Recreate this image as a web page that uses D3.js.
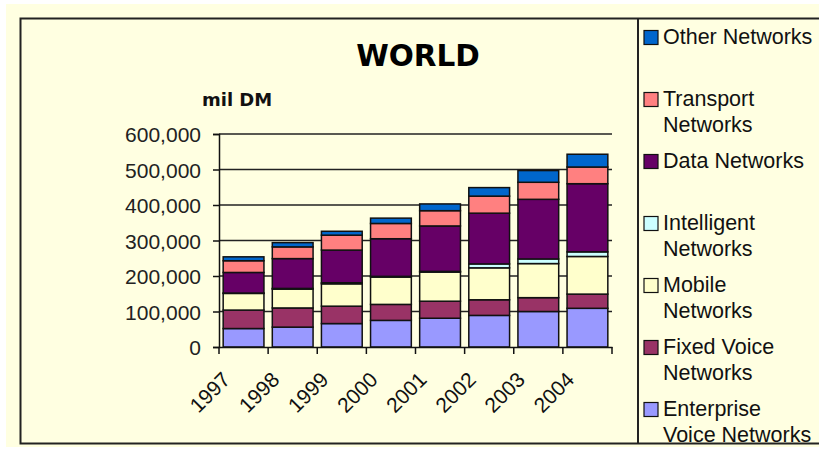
<!DOCTYPE html>
<html><head><meta charset="utf-8">
<script src="https://cdn.jsdelivr.net/npm/d3@7"></script>
<style>body{margin:0;background:#fff}svg{display:block}</style>
</head><body>
<svg id="c" width="819" height="449"></svg>
<script>
const years = ["1997","1998","1999","2000","2001","2002","2003","2004"];
const seriesNames = ["Enterprise Voice Networks","Fixed Voice Networks","Mobile Networks","Intelligent Networks","Data Networks","Transport Networks","Other Networks"];
const legendLines = [["Enterprise","Voice Networks"],["Fixed Voice","Networks"],["Mobile","Networks"],["Intelligent","Networks"],["Data Networks"],["Transport","Networks"],["Other Networks"]];
const colors = ["#9999FF","#993366","#FFFFCC","#CCFFFF","#660066","#FF8080","#0066CC"];
const enterprise = [52000,56000,66000,75000,81000,89000,100000,109000];
const fixedVoice = [52000,54000,49000,45000,48000,44000,39000,40000];
const mobile = [47000,53000,63000,77000,82000,90000,96000,106000];
const intelligent = [1000,2000,3000,2000,2000,11000,13000,13000];
const dataNet = [58000,84000,92000,106000,128000,143000,168000,192000];
const transport = [33000,33000,42000,43000,43000,48000,48000,47000];
const other = [11000,12000,11000,15000,19000,24000,33000,36000];
const yTicks = [0,100000,200000,300000,400000,500000,600000];

const values = [enterprise,fixedVoice,mobile,intelligent,dataNet,transport,other];
const table = years.map((y,i)=>{const o={year:y}; seriesNames.forEach((s,k)=>o[s]=values[k][i]); return o;});
const stacked = d3.stack().keys(seriesNames)(table);

const svg = d3.select("#c");
svg.append("rect").attr("x",6).attr("y",4).attr("width",813).attr("height",443).attr("fill","#FFFFE1");

const x = d3.scaleBand().domain(years).range([219,612]).paddingInner(0.17).paddingOuter(0.085);
const y = d3.scaleLinear().domain([0,600000]).range([347,134]);

// gridlines
svg.append("g").selectAll("line").data(yTicks.slice(1)).join("line")
  .attr("x1",219).attr("x2",612).attr("y1",d=>y(d)).attr("y2",d=>y(d))
  .attr("stroke","#222").attr("stroke-width",1.5);

// bars
svg.append("g").selectAll("g").data(stacked).join("g")
  .attr("fill",(d,i)=>colors[i])
  .selectAll("rect").data(d=>d).join("rect")
  .attr("x",d=>x(d.data.year)).attr("width",x.bandwidth())
  .attr("y",d=>y(d[1])).attr("height",d=>y(d[0])-y(d[1]))
  .attr("stroke","#111").attr("stroke-width",1.5);

// y axis
const yAxis = svg.append("g").attr("transform","translate(219,0)")
  .call(d3.axisLeft(y).tickValues(yTicks).tickSize(6).tickPadding(12).tickFormat(d3.format(",")));
yAxis.select(".domain").attr("stroke","#111").attr("stroke-width",1.5);
yAxis.selectAll(".tick line").attr("stroke","#111").attr("stroke-width",1.5);
yAxis.selectAll("text").attr("font-family","'Liberation Sans',Arial,sans-serif").attr("font-size",21).attr("fill","#222").attr("dy","0.36em");

// x axis
const xAxis = svg.append("g").attr("transform","translate(0,347)")
  .call(d3.axisBottom(x).tickSize(0).tickFormat(""));
xAxis.select(".domain").attr("stroke","#111").attr("stroke-width",1.5);
xAxis.selectAll(".tick").remove();
const step = x.step();
svg.append("g").selectAll("line").data(d3.range(years.length+1)).join("line")
  .attr("x1",i=>219+i*step).attr("x2",i=>219+i*step).attr("y1",347).attr("y2",354)
  .attr("stroke","#111").attr("stroke-width",1.5);
svg.append("g").selectAll("text").data(years).join("text")
  .attr("transform",d=>`translate(${x(d)+x.bandwidth()/2-12},381) rotate(-45)`)
  .attr("text-anchor","end").attr("font-family","'Liberation Sans',Arial,sans-serif")
  .attr("font-size",21).attr("fill","#111").text(d=>d);

// titles
svg.append("text").attr("x",418).attr("y",66).attr("text-anchor","middle")
  .attr("font-family","'DejaVu Sans',sans-serif").attr("font-weight","bold").attr("font-size",29.5).attr("fill","#000").text("WORLD");
svg.append("text").attr("x",202).attr("y",106)
  .attr("font-family","'DejaVu Sans',sans-serif").attr("font-weight","bold").attr("font-size",18).attr("fill","#111").text("mil DM");

// frame
svg.append("path").attr("d","M819,18.5 H20.5 V443.5 H819").attr("fill","none").attr("stroke","#222").attr("stroke-width",2);
svg.append("line").attr("x1",638).attr("x2",638).attr("y1",18).attr("y2",444).attr("stroke","#222").attr("stroke-width",2);

// legend (reverse order)
const legendOrder = d3.range(seriesNames.length).reverse();
const lg = svg.append("g").selectAll("g").data(legendOrder).join("g")
  .attr("transform",(k,i)=>`translate(644,${43.5+i*62})`);
lg.append("rect").attr("x",0).attr("y",-13).attr("width",14).attr("height",14)
  .attr("fill",k=>colors[k]).attr("stroke","#111").attr("stroke-width",1.2);
lg.append("text").attr("x",19).attr("y",0)
  .attr("font-family","'Liberation Sans',Arial,sans-serif").attr("font-size",21.5).attr("fill","#111")
  .selectAll("tspan").data(k=>legendLines[k]).join("tspan")
  .attr("x",19).attr("dy",(d,i)=>i===0?0:26.5).text(d=>d);
</script>
</body></html>
